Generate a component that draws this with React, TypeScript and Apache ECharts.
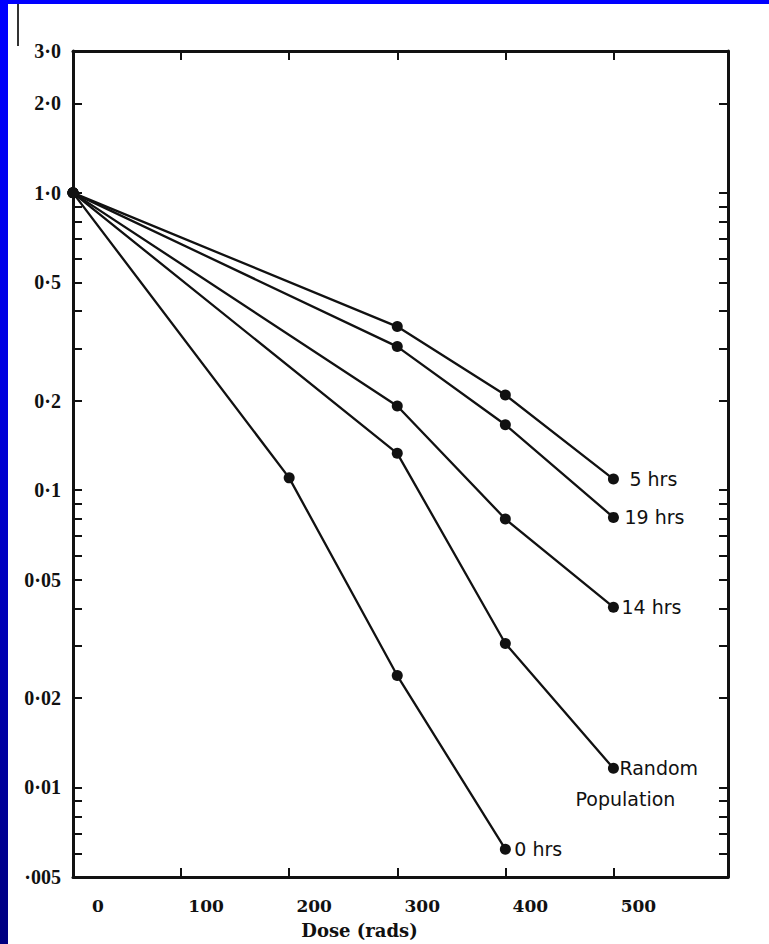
import React, { useEffect, useRef } from "react";
import * as echarts from "echarts";

// Doses (rads)
const dosesLate = [0, 300, 400, 500];
const dosesZero = [0, 200, 300, 400];

// Surviving fraction per series
const survival5h = [1.0, 0.355, 0.209, 0.109];
const survival19h = [1.0, 0.304, 0.166, 0.081];
const survival14h = [1.0, 0.192, 0.08, 0.0404];
const survivalRandom = [1.0, 0.133, 0.0305, 0.0116];
const survival0h = [1.0, 0.11, 0.0238, 0.0062];

// Axis ticks and labels
const yTickValues = [
  3, 2, 1, 0.9, 0.8, 0.7, 0.6, 0.5, 0.4, 0.3, 0.2, 0.1, 0.09, 0.08, 0.07, 0.06,
  0.05, 0.04, 0.03, 0.02, 0.01, 0.009, 0.008, 0.007, 0.006, 0.005,
];
const yLabelValues = [3, 2, 1, 0.5, 0.2, 0.1, 0.05, 0.02, 0.01, 0.005];
const yLabelTexts = ["3·0", "2·0", "1·0", "0·5", "0·2", "0·1", "0·05", "0·02", "0·01", "·005"];
const xLabelValues = [0, 100, 200, 300, 400, 500];
const xTickValues = [100, 200, 300, 400, 500];
const xMin = 0;
const xMax = 606;
const yMin = 0.005;
const yMax = 3;

const INK = "#111";
const LABEL_FONT = "DejaVu Sans";
const LABEL_SIZE = 19;

function pts(xs: number[], ys: number[]) {
  return xs.map((x, i) => [x, Math.log10(ys[i])]);
}

function lineSeries(name: string, xs: number[], ys: number[], labelText: string, dist: number, extra: any = {}) {
  return {
    type: "line",
    name,
    data: pts(xs, ys),
    clip: false,
    symbol: "circle",
    symbolSize: 11,
    lineStyle: { color: INK, width: 2.3 },
    itemStyle: { color: INK },
    endLabel: {
      show: true,
      formatter: labelText,
      distance: dist,
      color: INK,
      fontFamily: LABEL_FONT,
      fontSize: LABEL_SIZE,
    },
    ...extra,
  };
}

export default function App() {
  const ref = useRef<HTMLDivElement>(null);
  useEffect(() => {
    if (!ref.current) return;
    const chart = echarts.init(ref.current, null, { renderer: "svg" });
    const yTicksLog = yTickValues.map((v) => Math.log10(v));
    const yLabelsLog = yLabelValues.map((v) => Math.log10(v));
    const yFormatter = (v: number) => {
      let best = 0;
      let bd = Infinity;
      yLabelsLog.forEach((l, i) => {
        const d = Math.abs(l - v);
        if (d < bd) {
          bd = d;
          best = i;
        }
      });
      return yLabelTexts[best];
    };
    const axisLine = { show: true, onZero: false, lineStyle: { color: INK, width: 3 } };
    const tickStyle = { color: INK, width: 2 };
    const option: any = {
      animation: false,
      backgroundColor: "#ffffff",
      grid: { left: 65, top: 47, right: 41, bottom: 64 },
      xAxis: [
        {
          type: "value",
          position: "bottom",
          min: xMin,
          max: xMax,
          axisLine,
          axisTick: { show: true, inside: true, length: 9, customValues: xTickValues, lineStyle: tickStyle },
          axisLabel: {
            customValues: xLabelValues,
            margin: 20,
            padding: [0, 0, 0, 50],
            fontFamily: "DejaVu Serif",
            fontWeight: "bold",
            fontSize: 17,
            color: INK,
          },
          splitLine: { show: false },
          name: "Dose (rads)",
          nameLocation: "middle",
          nameGap: 44,
          nameTextStyle: {
            fontFamily: "DejaVu Serif",
            fontWeight: "bold",
            fontSize: 18,
            color: INK,
            padding: [0, 82, 0, 0],
          },
        },
        {
          type: "value",
          position: "top",
          min: xMin,
          max: xMax,
          axisLine,
          axisTick: { show: true, inside: true, length: 9, customValues: xTickValues, lineStyle: tickStyle },
          axisLabel: { show: false },
          splitLine: { show: false },
        },
      ],
      yAxis: [
        {
          type: "value",
          position: "left",
          min: Math.log10(yMin),
          max: Math.log10(yMax),
          axisLine,
          axisTick: { show: true, inside: true, length: 9, customValues: yTicksLog, lineStyle: tickStyle },
          axisLabel: {
            customValues: yLabelsLog,
            formatter: yFormatter,
            margin: 12,
            fontFamily: "Liberation Serif",
            fontWeight: "bold",
            fontSize: 20,
            color: INK,
          },
          splitLine: { show: false },
        },
        {
          type: "value",
          position: "right",
          min: Math.log10(yMin),
          max: Math.log10(yMax),
          axisLine,
          axisTick: { show: true, inside: true, length: 9, customValues: yTicksLog, lineStyle: tickStyle },
          axisLabel: { show: false },
          splitLine: { show: false },
        },
      ],
      graphic: [
        {
          type: "line",
          shape: { x1: 10, y1: 0, x2: 10, y2: 42 },
          style: { stroke: "#333", lineWidth: 2 },
        },
      ],
      series: [
        lineSeries("5 hrs", dosesLate, survival5h, "5 hrs", 16),
        lineSeries("19 hrs", dosesLate, survival19h, "19 hrs", 11),
        lineSeries("14 hrs", dosesLate, survival14h, "14 hrs", 8),
        lineSeries("Random Population", dosesLate, survivalRandom, "Random", 6, {
          markPoint: {
            symbol: "circle",
            symbolSize: 0,
            data: [
              {
                coord: [dosesLate[3], Math.log10(survivalRandom[3])],
                label: {
                  show: true,
                  formatter: "Population",
                  position: "inside",
                  offset: [12, 31],
                  color: INK,
                  fontFamily: LABEL_FONT,
                  fontSize: LABEL_SIZE,
                },
              },
            ],
          },
        }),
        lineSeries("0 hrs", dosesZero, survival0h, "0 hrs", 9),
      ],
    };
    chart.setOption(option);
    return () => chart.dispose();
  }, []);
  return (
    <div
      style={{
        position: "fixed",
        left: 0,
        top: 0,
        width: 769,
        height: 944,
        background: "linear-gradient(to bottom, #0000ff 0%, #0000e0 40%, #000080 100%)",
      }}
    >
      <div
        ref={ref}
        style={{ position: "absolute", left: 8, top: 4, width: 761, height: 940, background: "#fff" }}
      />
    </div>
  );
}
